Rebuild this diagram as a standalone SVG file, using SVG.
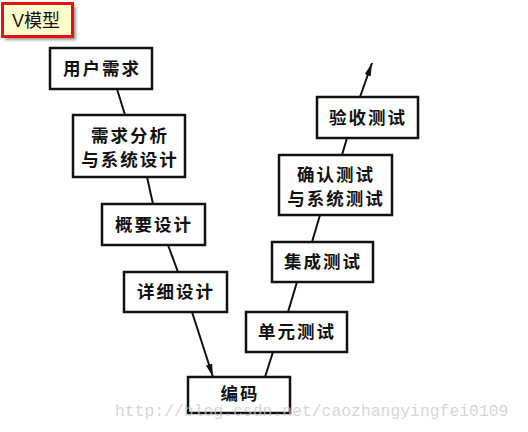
<svg xmlns="http://www.w3.org/2000/svg" width="528" height="432" viewBox="0 0 528 432">
<defs>
<marker id="arr" markerUnits="userSpaceOnUse" markerWidth="14" markerHeight="8" refX="13" refY="4" orient="auto">
<path d="M0,0.8 L13,4 L0,7.2 Z" fill="#111"/>
</marker>
<filter id="sh" x="-10%" y="-10%" width="130%" height="140%">
<feGaussianBlur stdDeviation="1.5"/>
</filter>
</defs>
<style>
.box{fill:#fff;stroke:#111;stroke-width:2.5}
.t{font-family:"Noto Sans CJK SC","Noto Sans",sans-serif;font-weight:bold;font-size:17.5px;fill:#111;text-anchor:middle;letter-spacing:2px}
.c{stroke:#111;stroke-width:2;fill:none}
</style>
<rect width="528" height="432" fill="#fff"/>
<g id="title">
<rect x="5" y="6" width="71" height="34" fill="#999" filter="url(#sh)"/>
<rect x="2.5" y="3.5" width="70" height="33" fill="#ffffcc" stroke="#e81010" stroke-width="3"/>
<text x="12" y="27" font-family="'Liberation Sans','Noto Sans CJK SC',sans-serif" font-size="18" fill="#111">V模型</text>
</g>
<g id="connectors">
<line class="c" x1="117" y1="89" x2="125" y2="115"/>
<line class="c" x1="147" y1="177" x2="153" y2="204"/>
<line class="c" x1="168" y1="245" x2="178" y2="272"/>
<line class="c" x1="192" y1="312" x2="213" y2="377" marker-end="url(#arr)"/>
<line class="c" x1="265" y1="377" x2="273" y2="352"/>
<line class="c" x1="288" y1="312" x2="297" y2="282"/>
<line class="c" x1="312" y1="242" x2="320" y2="215"/>
<line class="c" x1="342" y1="155" x2="347" y2="138"/>
<line class="c" x1="360" y1="97" x2="372" y2="63" marker-end="url(#arr)"/>
</g>
<g id="n1"><rect class="box" x="50" y="48" width="102" height="41"/><text class="t" x="102" y="75">用户需求</text></g>
<g id="n2"><rect class="box" x="73" y="115" width="112" height="62"/><text class="t" x="130" y="142">需求分析</text><text class="t" x="130" y="166">与系统设计</text></g>
<g id="n3"><rect class="box" x="102" y="204" width="103" height="41"/><text class="t" x="154" y="231">概要设计</text></g>
<g id="n4"><rect class="box" x="124" y="272" width="103" height="40"/><text class="t" x="176" y="298">详细设计</text></g>
<g id="n5"><rect class="box" x="188" y="377" width="102" height="36"/><text class="t" x="240" y="400">编码</text></g>
<g id="n6"><rect class="box" x="246" y="312" width="101" height="40"/><text class="t" x="297" y="338">单元测试</text></g>
<g id="n7"><rect class="box" x="272" y="242" width="101" height="40"/><text class="t" x="323" y="268">集成测试</text></g>
<g id="n8"><rect class="box" x="279" y="155" width="113" height="60"/><text class="t" x="336" y="181">确认测试</text><text class="t" x="336" y="205">与系统测试</text></g>
<g id="n9"><rect class="box" x="317" y="97" width="101" height="41"/><text class="t" x="368" y="124">验收测试</text></g>
<text x="115" y="416" font-family="'Liberation Mono',monospace" font-size="16.4" fill="#c8c8c8" fill-opacity="0.75">http://blog.csdn.net/caozhangyingfei0109</text>
</svg>
